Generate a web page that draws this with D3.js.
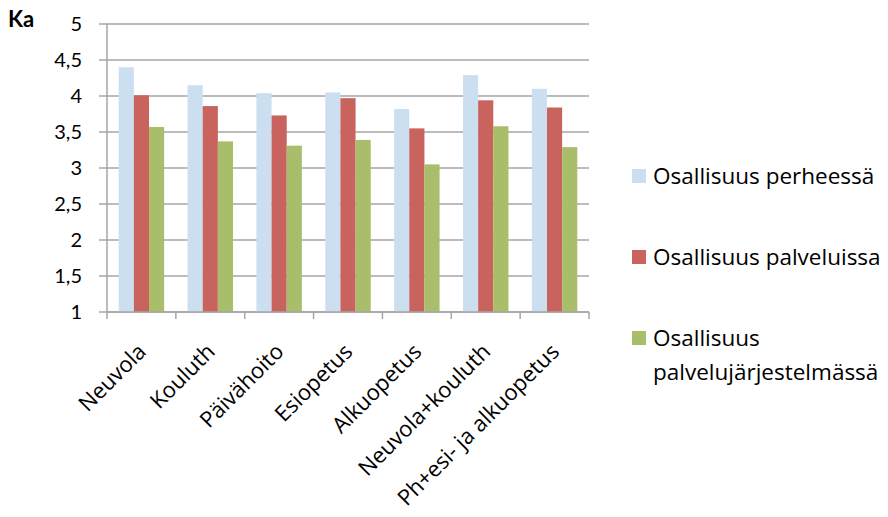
<!DOCTYPE html>
<html><head><meta charset="utf-8">
<script src="https://cdn.jsdelivr.net/npm/d3@7"></script>
<style>body{margin:0;background:#fff;} svg{display:block;font-family:"Open Sans", sans-serif;}</style>
</head><body>
<svg id="c" width="888" height="517"></svg>
<script>
const categories = ["Neuvola","Kouluth","Päivähoito","Esiopetus","Alkuopetus","Neuvola+kouluth","Ph+esi- ja alkuopetus"];
const seriesNames = ["Osallisuus perheessä","Osallisuus palveluissa","Osallisuus palvelujärjestelmässä"];
const perheessa = [4.40,4.15,4.04,4.05,3.82,4.29,4.10];
const palveluissa = [4.01,3.86,3.73,3.97,3.55,3.94,3.84];
const jarjestelmassa = [3.57,3.37,3.31,3.39,3.05,3.58,3.29];
const yTicks = [1,1.5,2,2.5,3,3.5,4,4.5,5];
const colors = ["#CCDFF0","#C8635E","#A9BE6A"];
const series = [perheessa, palveluissa, jarjestelmassa];

const svg = d3.select("#c");
const L = 107, R = 589, T = 24, B = 312;
const x = d3.scaleBand().domain(categories).range([L, R]).paddingInner(0.34).paddingOuter(0.17);
const xs = d3.scaleBand().domain(d3.range(3)).range([0, x.bandwidth()]);
const y = d3.scaleLinear().domain([1,5]).range([B, T]);
const fmt = d => String(d).replace(".", ",");

// gridlines
svg.append("g").selectAll("line").data(yTicks).join("line")
  .attr("x1", L - 8).attr("x2", R).attr("y1", d => y(d)).attr("y2", d => y(d))
  .attr("stroke", "#A6A6A6").attr("stroke-width", 1.5);
// y axis line
svg.append("line").attr("x1", L).attr("x2", L).attr("y1", T).attr("y2", B)
  .attr("stroke", "#A6A6A6").attr("stroke-width", 1.5);
// y tick labels
svg.append("g").selectAll("text").data(yTicks).join("text")
  .attr("x", 82).attr("y", d => y(d) + 7).attr("text-anchor", "end")
  .attr("font-family", "Lato").attr("font-size", 20).attr("fill", "#000").text(fmt);
svg.append("text").attr("x", 8).attr("y", 27).attr("font-family", "Lato").attr("font-size", 22).attr("font-weight", "bold").text("Ka");

// bars
const g = svg.append("g");
series.forEach((vals, si) => {
  g.append("g").selectAll("rect").data(vals).join("rect")
    .attr("x", (d, i) => x(categories[i]) + xs(si))
    .attr("width", xs.bandwidth())
    .attr("y", d => y(d)).attr("height", d => y(1) - y(d))
    .attr("fill", colors[si]);
});

// x axis
svg.append("line").attr("x1", L).attr("x2", R).attr("y1", B).attr("y2", B)
  .attr("stroke", "#A6A6A6").attr("stroke-width", 1.5);
const bounds = d3.range(categories.length + 1).map(i => L + i * (R - L) / categories.length);
svg.append("g").selectAll("line").data(bounds).join("line")
  .attr("x1", d => d).attr("x2", d => d).attr("y1", B).attr("y2", B + 7)
  .attr("stroke", "#A6A6A6").attr("stroke-width", 1.5);
svg.append("g").selectAll("text").data(categories).join("text")
  .attr("transform", d => `translate(${x(d) + x.bandwidth()/2 + 6},${B + 41}) rotate(-45)`)
  .attr("text-anchor", "end").attr("font-size", 22).text(d => d);

// legend
const leg = [
  {i:0, y:176, lines:["Osallisuus perheessä"]},
  {i:1, y:257, lines:["Osallisuus palveluissa"]},
  {i:2, y:338, lines:["Osallisuus","palvelujärjestelmässä"]}
];
const lg = svg.append("g");
leg.forEach(l => {
  lg.append("rect").attr("x", 632).attr("y", l.y - 7).attr("width", 14).attr("height", 14).attr("fill", colors[l.i]);
  l.lines.forEach((t, k) => {
    lg.append("text").attr("x", 653).attr("y", l.y + 8 + k * 34).attr("font-size", 22.5).text(k === 0 && l.lines.length === 1 ? seriesNames[l.i] : t);
  });
});
</script>
</body></html>
